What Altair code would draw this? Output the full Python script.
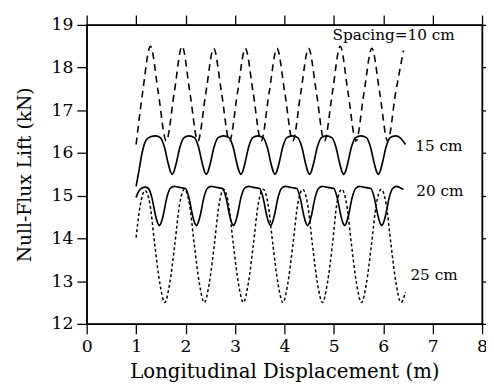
import altair as alt
import pandas as pd

# ---- data ----
x_ticks = [0, 1, 2, 3, 4, 5, 6, 7, 8]
y_ticks = [12, 13, 14, 15, 16, 17, 18, 19]

x10 = [1.00, 1.13, 1.29, 1.45, 1.61, 1.77, 1.93, 2.09, 2.25, 2.41, 2.57, 2.73, 2.89, 3.05,
       3.21, 3.37, 3.53, 3.69, 3.85, 4.01, 4.17, 4.33, 4.49, 4.65, 4.81, 4.97, 5.13, 5.29,
       5.45, 5.61, 5.77, 5.93, 6.09, 6.25, 6.41]
y10 = [16.20, 17.40, 18.50, 17.40, 16.28, 17.40, 18.50, 17.40, 16.28, 17.40, 18.45, 17.40,
       16.28, 17.40, 18.45, 17.40, 16.28, 17.40, 18.45, 17.40, 16.28, 17.40, 18.45, 17.40,
       16.28, 17.40, 18.50, 17.40, 16.28, 17.40, 18.45, 17.40, 16.28, 17.40, 18.40]

x15 = [1.00, 1.06, 1.12, 1.20, 1.29, 1.40,
       1.49, 1.57, 1.65, 1.70, 1.73, 1.76, 1.81, 1.89, 1.97, 2.07,
       2.18, 2.26, 2.34, 2.39, 2.42, 2.45, 2.50, 2.58, 2.66, 2.77,
       2.88, 2.96, 3.04, 3.09, 3.12, 3.15, 3.20, 3.28, 3.36, 3.46,
       3.57, 3.65, 3.73, 3.78, 3.81, 3.84, 3.89, 3.97, 4.05, 4.16,
       4.27, 4.35, 4.43, 4.48, 4.51, 4.54, 4.59, 4.67, 4.75, 4.85,
       4.96, 5.04, 5.12, 5.17, 5.20, 5.23, 5.28, 5.36, 5.44, 5.55,
       5.66, 5.74, 5.82, 5.87, 5.90, 5.93, 5.98, 6.06, 6.14, 6.25, 6.35, 6.45]
y15 = [15.22, 15.60, 16.00, 16.30, 16.38, 16.40,
       16.36, 16.15, 15.75, 15.55, 15.50, 15.55, 15.75, 16.15, 16.36, 16.40,
       16.36, 16.15, 15.75, 15.55, 15.50, 15.55, 15.75, 16.15, 16.36, 16.40,
       16.36, 16.15, 15.75, 15.55, 15.50, 15.55, 15.75, 16.15, 16.36, 16.40,
       16.36, 16.15, 15.75, 15.55, 15.50, 15.55, 15.75, 16.15, 16.36, 16.40,
       16.36, 16.15, 15.75, 15.55, 15.50, 15.55, 15.75, 16.15, 16.36, 16.40,
       16.36, 16.15, 15.75, 15.55, 15.50, 15.55, 15.75, 16.15, 16.36, 16.40,
       16.36, 16.15, 15.75, 15.55, 15.50, 15.55, 15.75, 16.15, 16.36, 16.40, 16.35, 16.20]

x20 = [1.00, 1.05, 1.12, 1.18,
       1.25, 1.32, 1.39, 1.44, 1.47, 1.50, 1.55, 1.62, 1.69, 1.77, 1.85,
       2.00, 2.07, 2.14, 2.19, 2.22, 2.25, 2.30, 2.37, 2.44, 2.52, 2.60,
       2.75, 2.82, 2.89, 2.94, 2.97, 3.00, 3.05, 3.12, 3.19, 3.27, 3.35,
       3.50, 3.57, 3.64, 3.69, 3.72, 3.75, 3.80, 3.87, 3.94, 4.02, 4.10,
       4.25, 4.32, 4.39, 4.44, 4.47, 4.50, 4.55, 4.62, 4.69, 4.77, 4.85,
       5.00, 5.07, 5.14, 5.19, 5.22, 5.25, 5.30, 5.37, 5.44, 5.52, 5.60,
       5.75, 5.82, 5.89, 5.94, 5.97, 6.00, 6.05, 6.12, 6.19, 6.27, 6.35, 6.41]
y20 = [14.96, 15.10, 15.18, 15.20,
       15.17, 14.95, 14.55, 14.35, 14.30, 14.35, 14.55, 14.95, 15.17, 15.22, 15.20,
       15.17, 14.95, 14.55, 14.35, 14.30, 14.35, 14.55, 14.95, 15.17, 15.22, 15.20,
       15.17, 14.95, 14.55, 14.35, 14.30, 14.35, 14.55, 14.95, 15.17, 15.22, 15.20,
       15.17, 14.95, 14.55, 14.35, 14.30, 14.35, 14.55, 14.95, 15.17, 15.22, 15.20,
       15.17, 14.95, 14.55, 14.35, 14.30, 14.35, 14.55, 14.95, 15.17, 15.22, 15.20,
       15.17, 14.95, 14.55, 14.35, 14.30, 14.35, 14.55, 14.95, 15.17, 15.22, 15.20,
       15.17, 14.95, 14.55, 14.35, 14.30, 14.35, 14.55, 14.95, 15.17, 15.22, 15.18, 15.15]

x25 = [1.00, 1.08, 1.18, 1.28, 1.38, 1.48, 1.58, 1.68, 1.78, 1.88, 1.98, 2.08, 2.18, 2.28,
       2.38, 2.48, 2.58, 2.68, 2.77, 2.87, 2.97, 3.07, 3.17, 3.27, 3.37, 3.47, 3.57, 3.67,
       3.77, 3.87, 3.97, 4.07, 4.17, 4.27, 4.37, 4.47, 4.57, 4.67, 4.77, 4.87, 4.97, 5.06,
       5.16, 5.26, 5.36, 5.46, 5.56, 5.66, 5.76, 5.86, 5.96, 6.06, 6.16, 6.26, 6.36, 6.45]
y25 = [14.02, 14.75, 15.12, 14.80, 13.83, 12.95, 12.50, 12.95, 13.83, 14.80, 15.15, 14.80,
       13.83, 12.95, 12.50, 12.95, 13.83, 14.80, 15.15, 14.80, 13.83, 12.95, 12.50, 12.95,
       13.83, 14.80, 15.15, 14.80, 13.83, 12.95, 12.50, 12.95, 13.83, 14.80, 15.15, 14.80,
       13.83, 12.95, 12.50, 12.95, 13.83, 14.80, 15.15, 14.80, 13.83, 12.95, 12.50, 12.95,
       13.83, 14.80, 15.15, 14.80, 13.83, 12.95, 12.50, 12.75]

label_text = ["Spacing=10 cm", "15 cm", "20 cm", "25 cm"]
label_x = [4.975, 6.65, 6.67, 6.55]
label_y = [18.75, 16.17, 15.11, 13.15]

FONT = "DejaVu Serif"

xscale = alt.Scale(domain=[0, 8], nice=False, zero=False)
yscale = alt.Scale(domain=[12, 19], nice=False, zero=False)

common_axis = dict(
    grid=False, domainColor="black", domainWidth=1.4, tickColor="black", tickWidth=1.3,
    tickSize=10, labelColor="black", titleColor="black", labelFont=FONT, titleFont=FONT,
    titleFontWeight="normal",
)


def line_layer(xs, ys, dash=None, width=1.6, main=False, top=False):
    df = pd.DataFrame({"x": xs, "y": ys})
    kw = dict(interpolate="monotone", color="black", strokeWidth=width)
    if dash:
        kw["strokeDash"] = dash
    if main:
        xaxis = alt.Axis(orient="bottom", values=x_ticks, title="Longitudinal Displacement (m)",
                         labelFontSize=17.5, titleFontSize=20, labelPadding=4, titlePadding=7,
                         labelFlush=False, labelOverlap=False, format="d", **common_axis)
        yaxis = alt.Axis(orient="left", values=y_ticks, title="Null-Flux Lift (kN)",
                         labelFontSize=17.5, titleFontSize=19, labelPadding=4, titlePadding=17,
                         labelFlush=False, labelOverlap=False, format="d", **common_axis)
    elif top:
        xaxis = alt.Axis(orient="top", values=x_ticks, labels=False, title=None, **common_axis)
        yaxis = alt.Axis(orient="right", values=y_ticks, labels=False, title=None, **common_axis)
    else:
        xaxis = None
        yaxis = None
    return alt.Chart(df).mark_line(**kw).encode(
        x=alt.X("x:Q", scale=xscale, axis=xaxis),
        y=alt.Y("y:Q", scale=yscale, axis=yaxis),
    )


l10 = line_layer(x10, y10, dash=[7, 5], width=1.6, main=True)
l15 = line_layer(x15, y15, width=1.7)
l20 = line_layer(x20, y20, width=1.7)
l25 = line_layer(x25, y25, dash=[3, 2.5], width=1.5)
frame_axes = line_layer(x20, y20, width=0.01, top=True).encode(opacity=alt.value(0))

labels_df = pd.DataFrame({"t": label_text, "x": label_x, "y": label_y})
labels = alt.Chart(labels_df).mark_text(
    align="left", baseline="middle", font=FONT, fontSize=15.5, color="black"
).encode(
    x=alt.X("x:Q", scale=xscale, axis=None),
    y=alt.Y("y:Q", scale=yscale, axis=None),
    text="t:N",
)

chart = (
    alt.layer(l10, l15, l20, l25, frame_axes, labels)
    .resolve_axis(x="independent", y="independent")
    .properties(
        width=402,
        height=304,
        autosize=alt.AutoSizeParams(type="none"),
        padding={"left": 80, "top": 14, "right": 4, "bottom": 59},
        background="white",
    )
    .configure_view(stroke="black", strokeWidth=1.4)
    .configure_axis(
        grid=False,
        domainColor="black",
        tickColor="black",
        labelColor="black",
        titleColor="black",
        labelFont=FONT,
        titleFont=FONT,
        titleFontWeight="normal",
    )
)

chart.save("out.html", embed_options={"renderer": "svg", "actions": False})
